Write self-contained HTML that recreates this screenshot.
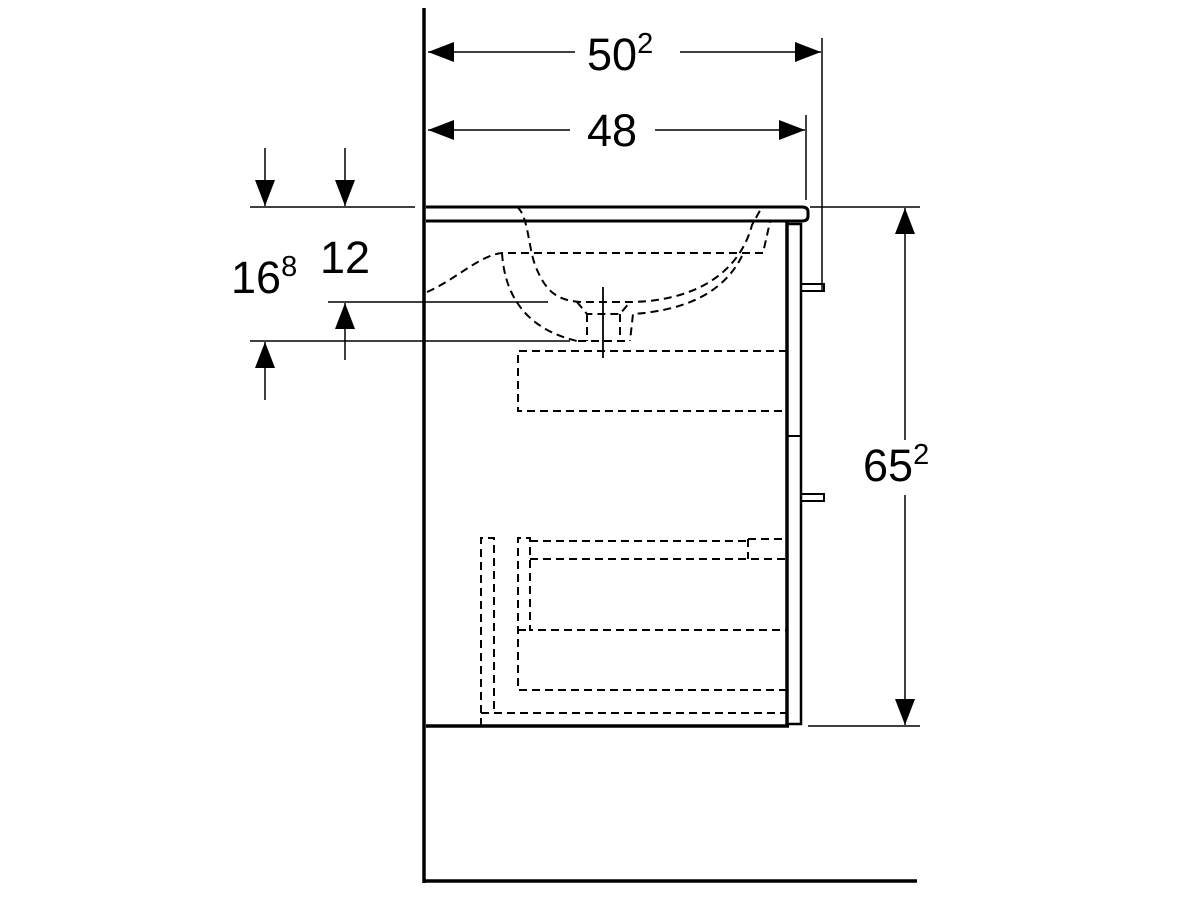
<!DOCTYPE html>
<html><head><style>body{margin:0;background:#fff}svg{display:block}</style></head><body>
<svg width="1200" height="900" viewBox="0 0 1200 900" xmlns="http://www.w3.org/2000/svg" font-family="Liberation Sans, sans-serif">
<defs>
<marker id="a" markerWidth="26" markerHeight="20" refX="26" refY="10" orient="auto" markerUnits="userSpaceOnUse"><path d="M0,0 L26,10 L0,20 z" fill="#000"/></marker>
</defs>
<g stroke="#000" fill="none">
<line x1="424" y1="8" x2="424" y2="883" stroke-width="3.5"/>
<line x1="423" y1="881" x2="917" y2="881" stroke-width="3.5"/>
<path d="M426,207 H802 Q808,207 808,212 V216 Q808,221 802,221 H426" stroke-width="3"/>
<line x1="787" y1="222" x2="787" y2="727" stroke-width="3.5"/>
<line x1="426" y1="726" x2="789" y2="726" stroke-width="3.5"/>
<path d="M787,224 H801 V724 H787" stroke-width="2.5"/>
<line x1="787" y1="436" x2="801" y2="436" stroke-width="2"/>
<path d="M801,284 H824 V291 H801" stroke-width="2"/>
<path d="M801,494 H824 V501 H801" stroke-width="2"/>
<line x1="810" y1="207" x2="920" y2="207" stroke-width="1.5"/>
<line x1="808" y1="726" x2="920" y2="726" stroke-width="1.5"/>
<line x1="905" y1="440" x2="905" y2="208" stroke-width="1.5" marker-end="url(#a)"/>
<line x1="905" y1="495" x2="905" y2="725" stroke-width="1.5" marker-end="url(#a)"/>
<line x1="822" y1="38" x2="822" y2="290" stroke-width="1.5"/>
<line x1="806" y1="115" x2="806" y2="200" stroke-width="1.5"/>
<line x1="575" y1="52" x2="428" y2="52" stroke-width="1.5" marker-end="url(#a)"/>
<line x1="680" y1="52" x2="821" y2="52" stroke-width="1.5" marker-end="url(#a)"/>
<line x1="570" y1="130" x2="428" y2="130" stroke-width="1.5" marker-end="url(#a)"/>
<line x1="655" y1="130" x2="805" y2="130" stroke-width="1.5" marker-end="url(#a)"/>
<line x1="250" y1="207" x2="415" y2="207" stroke-width="1.5"/>
<line x1="328" y1="302" x2="548" y2="302" stroke-width="1.5"/>
<line x1="250" y1="341" x2="570" y2="341" stroke-width="1.5"/>
<line x1="265" y1="148" x2="265" y2="206" stroke-width="1.5" marker-end="url(#a)"/>
<line x1="345" y1="148" x2="345" y2="206" stroke-width="1.5" marker-end="url(#a)"/>
<line x1="345" y1="360" x2="345" y2="303" stroke-width="1.5" marker-end="url(#a)"/>
<line x1="265" y1="400" x2="265" y2="342" stroke-width="1.5" marker-end="url(#a)"/>
<g stroke-width="2" stroke-dasharray="8,5">
<path d="M517,207 C528,215 528,245 535,265 C545,290 555,300 580,302 H633 C700,300 740,270 752,225 L762,207"/>
<path d="M427,292 C455,280 480,255 502,253 H763 L770,222"/>
<path d="M502,253 C505,300 530,330 577,341"/>
<path d="M742,256 C725,290 690,310 633,314 L630,341"/>
<path d="M577,302 L587,314 H620 L630,302"/>
<path d="M587,314 V341 M620,314 V341 M578,341 H630"/>
<path d="M787,351 H518 V411 H787"/>
<path d="M481,726 V713 H787"/>
<path d="M481,713 V538 H494 V713"/>
<path d="M787,690 H518 V538 H530 V630 H787"/>
<path d="M518,630 H530"/>
<path d="M530,541 H748 M530,559 H787 M748,539 H787 M748,539 V559"/>
</g>
<line x1="603" y1="287" x2="603" y2="358" stroke-width="1.8"/>
</g>
<g font-size="45" fill="#000">
<text x="587" y="70">50<tspan font-size="29" dy="-17">2</tspan></text>
<text x="587" y="146">48</text>
<text x="863" y="481">65<tspan font-size="29" dy="-17">2</tspan></text>
<text x="231" y="293">16<tspan font-size="29" dy="-17">8</tspan></text>
<text x="320" y="273">12</text>
</g>
</svg>
</body></html>
